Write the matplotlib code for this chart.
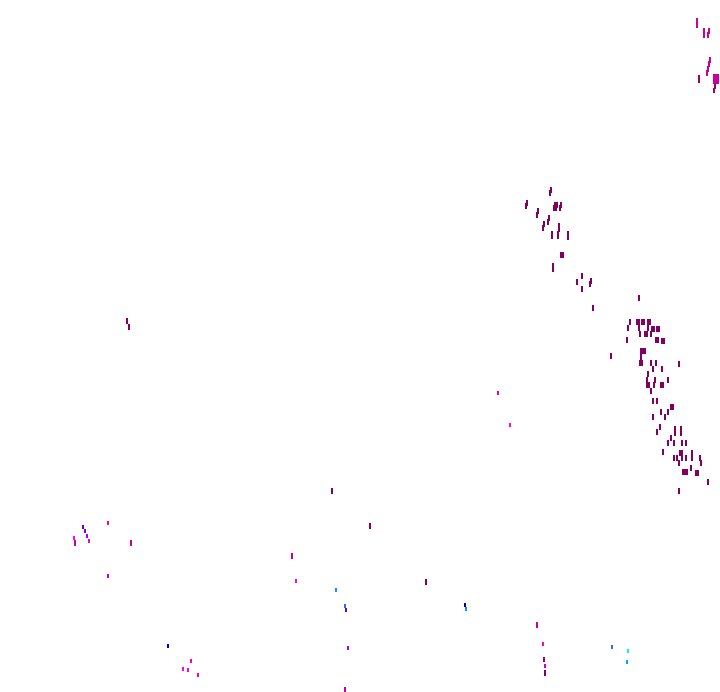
import matplotlib
matplotlib.use("Agg")
import matplotlib.pyplot as plt

# Dark cluster (x, y centre)
dark_x = [551,550,527,526,538,537,555,557,554,556,561,560,549,548,544,543,559,559,552,552,558,558,568,568,
          561,563,553,553,582,577,591,590,582,593,
          639,630,628,637,639,642,644,648,650,648,639,640,652,654,657,659,645,647,651,627,656,658,662,664,
          641,643,645,641,640,642,651,656,679,653,662,648,647,655,668,647,649,654,661,663,651,611,
          653,657,671,673,661,668,653,665,660,675,675,681,681,657,671,668,674,682,686,663,680,682,692,692,
          674,677,682,686,700,679,701,691,683,685,687,696,698,708,679,127,129,332,370,426,545]
dark_y = [190,193,203,206,211,215,205,205,208,208,205,208,218,222,224,228,226,229,234,236,234,236,234,237,
          255,255,266,269,276,282,281,284,289,308,
          298,322,328,322,322,322,322,322,322,328,328,334,329,329,329,329,334,334,334,340,340,340,341,341,
          351,351,351,357,363,363,363,363,364,369,369,374,380,380,380,385,385,385,385,385,391,356,
          401,401,407,407,412,412,417,417,427,429,433,429,433,432,438,443,443,443,443,452,453,453,453,458,
          458,458,458,458,458,463,463,468,472,472,472,473,473,482,491,321,327,491,526,582,673]

# Medium magenta-purple marks
mid_x = [697,697,704,704,709,708,710,709,708,707,714,716,718,714,716,718,75,131,292,345,537]
mid_y = [21,25,31,35,31,35,60,64,69,73,77,77,77,81,81,81,543,543,556,690,625]

deep_x = [699,699,715,714,544]
deep_y = [77,80,86,90,659]

# Individually coloured low marks
solo_x = [108,83,85,87,89,74,108,168,191,183,188,198,296,336,345,346,348,465,466,498,510,542.5,545,612,628,627]
solo_y = [523,527,531,536,541,538,576,646,661,669,670,675,581,590,606,610,648,605,609,393,425,644,666,647,651,662]
solo_colors = ["#ff0090","#5500ff","#7700ff","#aa00ff","#ff00aa","#ff00ff","#aa00ff","#0000cc","#ff00aa",
               "#ff00ff","#ff00dd","#ff0099","#ff00ee","#0099ff","#3366ff","#5500ff","#aa00ff","#0000aa",
               "#0099ff","#ee0099","#ff00ee","#ff00aa","#cc00cc","#3366ff","#00ffcc","#00aaff"]

fig = plt.figure(figsize=(7.2, 6.92), dpi=100)
ax = fig.add_axes([0, 0, 1, 1])
ax.set_xlim(0, 720)
ax.set_ylim(692, 0)
ax.axis("off")

def draw(x, y, color, h, w):
    ax.bar(x, [h] * len(y), width=w, bottom=[v - h / 2 for v in y],
           color=color, linewidth=0, antialiased=False)

draw(dark_x, dark_y, "#82005f", 6, 2.6)
draw(mid_x, mid_y, "#cc0099", 6, 2.6)
draw(deep_x, deep_y, "#99006b", 5, 2.6)
draw(solo_x, solo_y, solo_colors, 4.5, 2)

fig.savefig("out.png", dpi=100)
